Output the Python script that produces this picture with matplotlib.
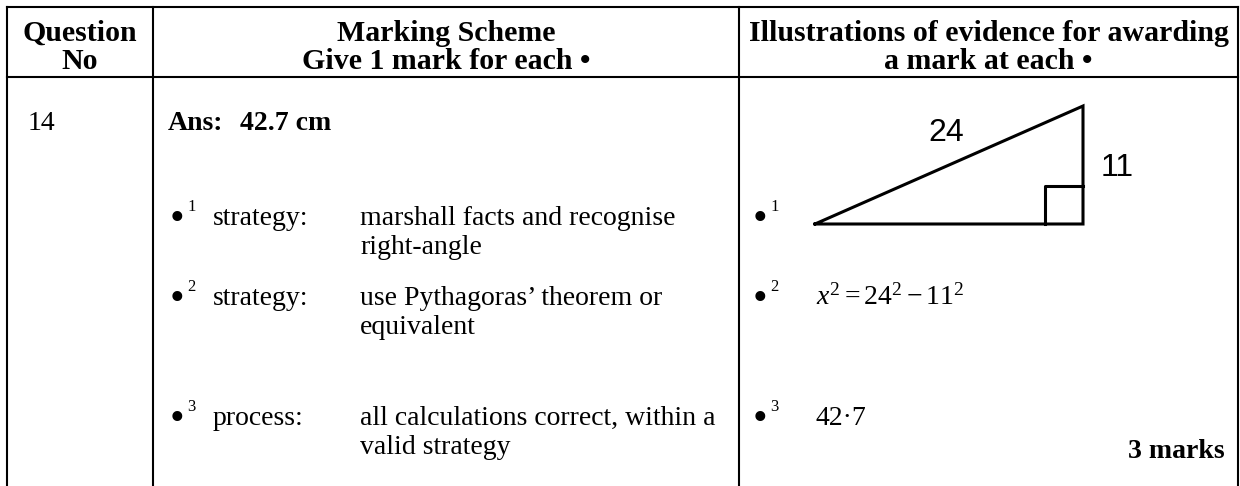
import matplotlib
matplotlib.use("Agg")
import matplotlib.pyplot as plt

plt.rcParams['mathtext.fontset'] = 'custom'
plt.rcParams['mathtext.rm'] = 'Liberation Serif'
plt.rcParams['mathtext.it'] = 'Liberation Serif:italic'
plt.rcParams['mathtext.bf'] = 'Liberation Serif:bold'

# ---- content ----
header_col1 = ["Question", "No"]
header_col2 = ["Marking Scheme", "Give 1 mark for each \u2022"]
header_col3 = ["Illustrations of evidence for awarding", "a mark at each \u2022"]
question_no = "14"
answer_label = "Ans:"
answer_value = "42.7 cm"
bullet_nums = ["1", "2", "3"]
bullet_kinds = ["strategy:", "strategy:", "process:"]
bullet_texts = [["marshall facts and recognise", "right-angle"],
                ["use Pythagoras\u2019 theorem or", "equivalent"],
                ["all calculations correct, within a", "valid strategy"]]
evidence = [None, r"$x^2 = 24^2 - 11^2$", "42\u00b77"]
marks_text = "3 marks"
tri_x = [815, 1083, 1083, 815]
tri_y = [224, 224, 106, 224]
tri_labels = ["24", "11"]

W, H = 1240, 486
fig = plt.figure(figsize=(W / 100, H / 100), dpi=100)
ax = fig.add_axes([0, 0, 1, 1])
ax.set_xlim(0, W)
ax.set_ylim(H, 0)
ax.axis('off')

serif = 'Liberation Serif'
sans = 'Liberation Sans'
FS = 20
HFS = 21.5
lw = 1.5

# table grid
xL, x1, x2, xR = 7, 153, 739, 1238
yT, yH = 7, 77
ax.plot([xL, xR], [yT, yT], color='black', lw=lw, solid_capstyle='projecting')
ax.plot([xL, xR], [yH, yH], color='black', lw=lw)
for xv in (xL, x1, x2, xR):
    ax.plot([xv, xv], [yT, H + 2], color='black', lw=lw, solid_capstyle='projecting')

# header
hb = [41, 69]
for col, cx in ((header_col1, (xL + x1) / 2), (header_col2, (x1 + x2) / 2), (header_col3, (x2 + xR) / 2)):
    for t, yb in zip(col, hb):
        ax.text(cx, yb, t, ha='center', va='baseline', fontsize=HFS, fontweight='bold', family=serif)

# first row
ax.text(28, 130, question_no, ha='left', va='baseline', fontsize=FS, family=serif)
ax.text(168, 130, answer_label, ha='left', va='baseline', fontsize=FS, fontweight='bold', family=serif)
ax.text(240, 130, answer_value, ha='left', va='baseline', fontsize=FS, fontweight='bold', family=serif)

row_base = [225, 305, 425]
line_gap = 29

def bullet(x, yb, num):
    ax.text(x - 2, yb + 5, "\u2022", ha='left', va='baseline', fontsize=FS + 10, family=serif)
    ax.text(x + 15, yb - 14, num, ha='left', va='baseline', fontsize=FS - 8, family=serif)

for i in range(3):
    yb = row_base[i]
    bullet(172, yb, bullet_nums[i])
    ax.text(213, yb, bullet_kinds[i], ha='left', va='baseline', fontsize=FS, family=serif)
    for j, line in enumerate(bullet_texts[i]):
        ax.text(360, yb + j * line_gap, line, ha='left', va='baseline', fontsize=FS, family=serif)
    bullet(755, yb, bullet_nums[i])
    if evidence[i] is not None:
        ax.text(816, yb, evidence[i], ha='left', va='baseline', fontsize=FS, family=serif)

ax.text(1225, row_base[2] + 33, marks_text, ha='right', va='baseline', fontsize=FS, fontweight='bold', family=serif)

# triangle illustration
ax.plot(tri_x, tri_y, color='black', lw=2.2, solid_joinstyle='miter')
sq = 38
ax.plot([tri_x[1] - sq, tri_x[1] - sq, tri_x[1]], [tri_y[1], tri_y[1] - sq, tri_y[1] - sq], color='black', lw=2.2)
ax.text(946, 133, tri_labels[0], ha='center', va='center', fontsize=23, family=sans)
ax.text(1117, 168, tri_labels[1], ha='center', va='center', fontsize=23, family=sans)

fig.savefig("out.png", dpi=100)
